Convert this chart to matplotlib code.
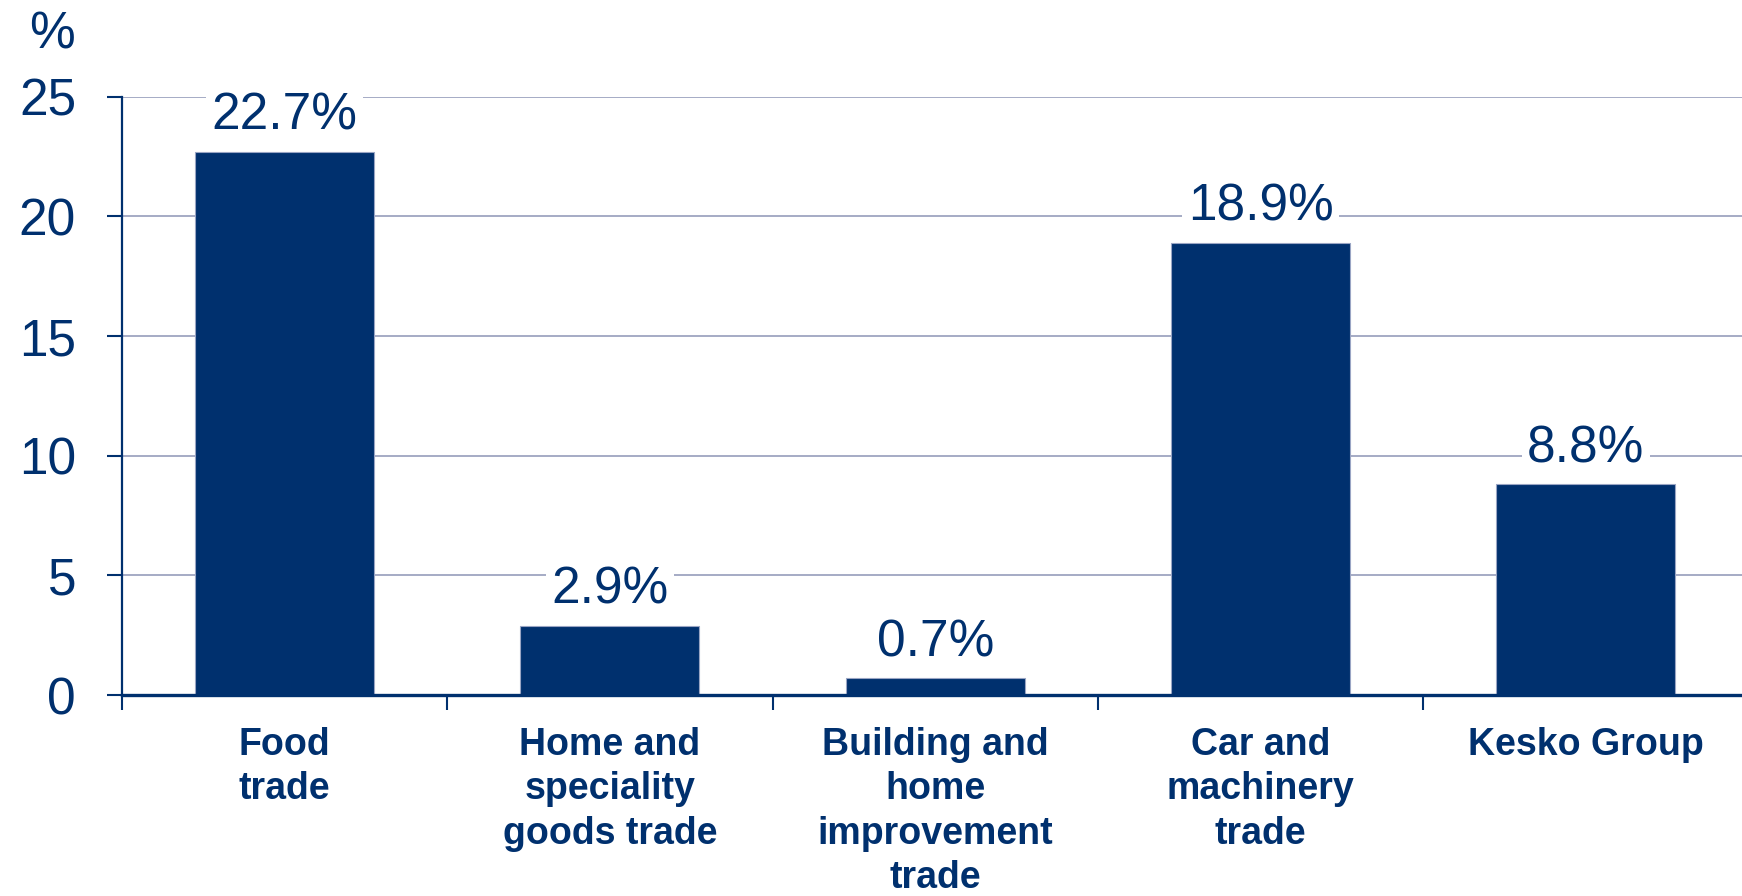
import numpy as np
import matplotlib
matplotlib.use('Agg')
import matplotlib.pyplot as plt

# Data
categories = ['Food\ntrade', 'Home and\nspeciality\ngoods trade',
              'Building and\nhome\nimprovement\ntrade',
              'Car and\nmachinery\ntrade', 'Kesko Group']
values = [22.7, 2.9, 0.7, 18.9, 8.8]
yticks = [0, 5, 10, 15, 20, 25]

navy = '#00306e'
grid_col = '#8d95b5'

plt.rcParams['font.family'] = ['Liberation Sans', 'DejaVu Sans']

fig = plt.figure(figsize=(17.42, 8.96), dpi=100)
ax = fig.add_axes([0.07, 0.2243, 0.93, 0.6677])

x = np.arange(len(values))
ax.bar(x, values, width=0.55, color=navy, edgecolor='#9aa5c4', linewidth=0.8, zorder=3)

# value labels with white box to break the gridlines
for xi, v in zip(x, values):
    ax.annotate(f'{v:.1f}%', (xi, v), xytext=(0, 16), textcoords='offset points',
                ha='center', va='baseline', fontsize=37, color=navy, zorder=4,
                bbox=dict(facecolor='white', edgecolor='none', pad=4))

ax.set_ylim(0, 25)
ax.set_xlim(-0.5, 4.48)
ax.set_yticks(yticks)
ax.set_yticklabels([str(t) for t in yticks])
ax.yaxis.grid(True, color=grid_col, linewidth=1.1, zorder=0)
ax.set_axisbelow(True)

# ticks at category boundaries, labels at centres
ax.set_xticks(np.arange(-0.5, 4.5, 1.0))
ax.set_xticklabels([])
ax.set_xticks(x, minor=True)
ax.set_xticklabels(categories, minor=True, fontsize=27, fontweight='bold',
                   color=navy, linespacing=1.3)
ax.tick_params(axis='x', which='major', length=11, width=1.5, color=navy, direction='out')
ax.tick_params(axis='x', which='minor', length=0, pad=23)
ax.tick_params(axis='y', length=11, width=1.5, color=navy, labelsize=37,
               labelcolor=navy, pad=22)

for s in ['top', 'right']:
    ax.spines[s].set_visible(False)
ax.spines['left'].set_color(navy)
ax.spines['left'].set_linewidth(1.6)
ax.spines['bottom'].set_color(navy)
ax.spines['bottom'].set_linewidth(2.4)
ax.spines['bottom'].set_zorder(5)

fig.text(0.03, 0.988, '%', fontsize=37, color=navy, ha='center', va='top')

fig.savefig('out.png', dpi=100)
